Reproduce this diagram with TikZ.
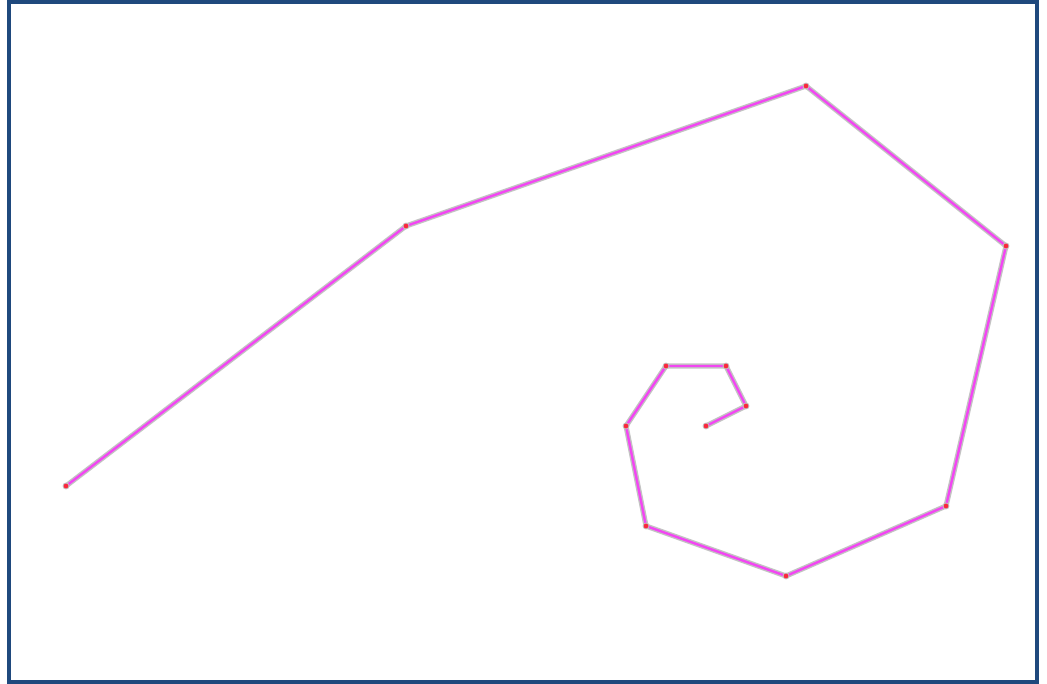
\documentclass[tikz,border=0pt]{standalone}
\definecolor{frameblue}{RGB}{31,73,125}
\definecolor{linemag}{RGB}{242,70,242}
\definecolor{halo}{RGB}{195,195,195}
\definecolor{dotred}{RGB}{250,40,60}
\tikzset{
  pt/.style={circle,fill=dotred,draw=halo,line width=0.8pt,inner sep=0pt,minimum size=6pt},
  haloline/.style={draw=halo,line width=5.2pt,line join=round,line cap=round},
  magline/.style={draw=linemag,line width=2.4pt,line join=round,line cap=round},
  framebox/.style={draw=frameblue,line width=4pt}
}
\begin{document}
\begin{tikzpicture}[x=1pt,y=-1pt]
\useasboundingbox (0,0) rectangle (1047,684);
\draw[framebox] (9,2) rectangle (1037,682);
\coordinate (p1) at (66,486);
\coordinate (p2) at (406,226);
\coordinate (p3) at (806,86);
\coordinate (p4) at (1006,246);
\coordinate (p5) at (946,506);
\coordinate (p6) at (786,576);
\coordinate (p7) at (646,526);
\coordinate (p8) at (626,426);
\coordinate (p9) at (666,366);
\coordinate (p10) at (726,366);
\coordinate (p11) at (746,406);
\coordinate (p12) at (706,426);
\draw[haloline] (p1)--(p2)--(p3)--(p4)--(p5)--(p6)--(p7)--(p8)--(p9)--(p10)--(p11)--(p12);
\draw[magline] (p1)--(p2)--(p3)--(p4)--(p5)--(p6)--(p7)--(p8)--(p9)--(p10)--(p11)--(p12);
\foreach \i in {1,...,12} \node[pt] (d\i) at (p\i) {};
\end{tikzpicture}
\end{document}
